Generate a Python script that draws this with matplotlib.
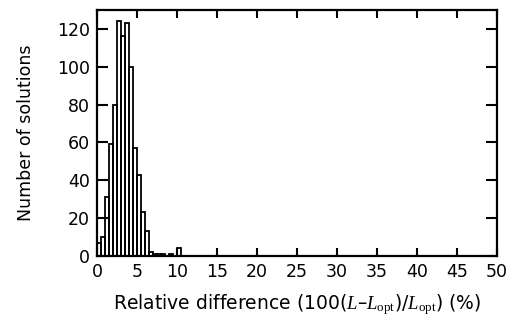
import matplotlib
matplotlib.use("Agg")
import matplotlib.pyplot as plt
import numpy as np

# Histogram of relative differences, bins of 0.5 % starting at 0
BIN_WIDTH = 0.5
counts = [7, 10, 31, 59, 80, 124, 116, 123, 100, 57, 43, 23, 13, 2, 1, 1, 1, 0, 1, 0, 4]
bin_starts = np.arange(len(counts)) * BIN_WIDTH

x_ticks = [0, 5, 10, 15, 20, 25, 30, 35, 40, 45, 50]
y_ticks = [0, 20, 40, 60, 80, 100, 120]

plt.rcParams["font.family"] = ["DejaVu Sans"]
plt.rcParams["mathtext.fontset"] = "custom"
plt.rcParams["mathtext.rm"] = "Liberation Serif"
plt.rcParams["mathtext.it"] = "Liberation Serif:italic"

fig = plt.figure(figsize=(5.16, 3.22), dpi=100)
ax = fig.add_axes([0.188, 0.205, 0.775, 0.764])

ax.bar(bin_starts, counts, width=BIN_WIDTH, align="edge",
       fill=False, edgecolor="black", linewidth=1.3)

ax.set_xlim(0, 50)
ax.set_ylim(0, 130)
ax.set_xticks(x_ticks)
ax.set_yticks(y_ticks)
ax.tick_params(direction="in", top=True, right=True, width=1.5,
               labelsize=12.5, pad=5)
ax.tick_params(axis="y", length=8)
ax.tick_params(axis="x", length=6)
for spine in ax.spines.values():
    spine.set_linewidth(1.6)

ax.set_xlabel(r"Relative difference (100($L$–$L_{\rm opt}$)/$L_{\rm opt}$) (%)",
              fontsize=13.5, labelpad=8)
ax.set_ylabel("Number of solutions", fontsize=12.5, labelpad=16)

fig.savefig("out.png", dpi=100)
